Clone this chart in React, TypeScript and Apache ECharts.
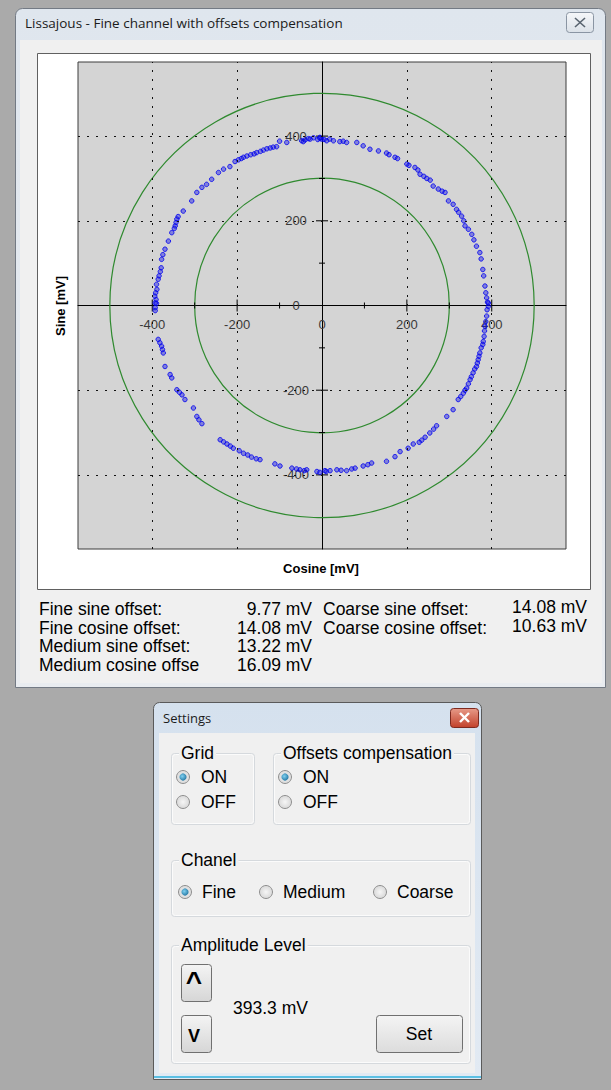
import React, { useEffect, useRef } from "react";
import * as echarts from "echarts";

const WINDOW_TITLE = "Lissajous - Fine channel with offsets compensation";
const X_NAME = "Cosine [mV]";
const Y_NAME = "Sine [mV]";
const AXIS_MIN = -575;
const AXIS_MAX = 575;
const TICK_LABELS = [-400, -200, 0, 200, 400];
const GRID_LINES = [-400, -200, 200, 400];
const MINOR_TICKS = [-300, -100, 100, 300];
const RING_RADII = [300, 500];

// Cosine [mV], Sine [mV] samples
const sampleCos = [
  -1, -32, -48, -83, -100, -107, -115, -122, -130, -138, -145, -154, -160, -168, -177, -185, -190, -197, -205, -217,
  -232, -244, -260, -272, -283, -295, -307, -327, -339, -342, -344, -346, -348, -354, -362, -370, -375, -378, -379,
  -381, -384, -386, -389, -390, -391, -392, -394, -390, -393, -393, -40, -20, -10, -5,
  -44, -28, -5, 5, 11, 18, 27, 42, 50, 58, 82, 97, 113, 133, 152, 158, 172, 178, 200, 205, 219, 226, 231, 240, 247,
  255, 262, 274, 283, 290, 298, 309, 317, 322, 329, 334, 337, 345, 353, 358, 364, 372, 375, 379, 381, 384, 386, 388,
  390, 392,
  392, 389, 388, 386, 384, 383, 382, 380, 379, 375, 372, 370, 368, 366, 364, 360, 356, 352, 349, 345, 341, 337, 333,
  327, 321, 309, 294, 270, 263, 254, 243, 235, 229, 215, 203, 184, 172, 152, 117, 108, 97, 78, 70, 58, 45, 35, 19, 10,
  -5,
  7, -12, -36, -42, -52, -60, -71, -99, -111, -146, -155, -166, -175, -185, -195, -209, -216, -224, -232, -240, -283,
  -290, -295, -303, -323, -330, -336, -342, -354, -358, -370, -374, -376, -378, -382, -386, -393,
];
const sampleSin = [
  393, 394, 389, 385, 388, 375, 374, 372, 370, 367, 364, 361, 358, 356, 353, 350, 347, 344, 340, 328,
  322, 314, 298, 286, 279, 267, 247, 223, 210, 204, 196, 188, 182, 172, 152, 133, 120, 109, 89,
  80, 70, 62, 38, 50, 14, 30, 22, 5, -5, -12, 391, 396, 392, 397,
  387, 393, 395, 392, 389, 393, 389, 387, 388, 385, 385, 377, 369, 365, 360, 356, 350, 347, 334, 331, 326, 320, 310, 305, 300,
  296, 282, 275, 270, 267, 247, 239, 227, 220, 211, 200, 188, 180, 168, 155, 140, 125, 110, 85, 70, 46, 30, 18,
  8, -2,
  6, -10, -25, -38, -49, -60, -73, -85, -92, -100, -112, -120, -128, -136, -144, -150, -159, -168, -175, -185, -195, -200, -207,
  -215, -222, -246, -262, -284, -292, -301, -311, -318, -323, -327, -337, -345, -357, -368, -372, -376, -379, -384, -386, -390, -389, -388, -390, -392,
  -394,
  -390, -392, -388, -390, -388, -386, -384, -379, -374, -364, -362, -358, -353, -349, -343, -337, -332, -327, -322, -317, -279,
  -270, -262, -242, -222, -211, -205, -199, -171, -163, -144, -112, -104, -96, -88, -80, 6,
];

const offsetNamesLeft = ["Fine sine offset:", "Fine cosine offset:", "Medium sine offset:", "Medium cosine offse"];
const offsetValuesLeft = ["9.77 mV", "14.08 mV", "13.22 mV", "16.09 mV"];
const offsetNamesRight = ["Coarse sine offset:", "Coarse cosine offset:"];
const offsetValuesRight = ["14.08 mV", "10.63 mV"];
const gridChoices = ["ON", "OFF"];
const offsetChoices = ["ON", "OFF"];
const channelChoices = ["Fine", "Medium", "Coarse"];
const amplitudeText = "393.3 mV";

const UI_FONT = '"Liberation Sans", Arial, sans-serif';
const TITLE_FONT = '"Open Sans", "Noto Sans", sans-serif';

const GRID_LEFT = 78;
const GRID_TOP = 62;
const GRID_W = 488;
const GRID_H = 487;

function txt(text: string, x: number, y: number, opts: any = {}) {
  return {
    type: "text",
    x,
    y,
    z: 50,
    rotation: opts.rotation || 0,
    style: {
      text,
      font: opts.font || `17.5px ${UI_FONT}`,
      fill: opts.fill || "#000",
      textAlign: opts.align || "left",
      textVerticalAlign: "middle",
      backgroundColor: opts.bg,
      padding: opts.bg ? [0, 2] : undefined,
    },
  };
}

function rect(x: number, y: number, w: number, h: number, style: any, r: any = 0, z = -10) {
  return { type: "rect", z, shape: { x, y, width: w, height: h, r }, style };
}

function vgrad(a: string, b: string) {
  return { type: "linear", x: 0, y: 0, x2: 0, y2: 1, colorStops: [{ offset: 0, color: a }, { offset: 1, color: b }] };
}

function radio(cx: number, cy: number, checked: boolean) {
  const els: any[] = [
    {
      type: "circle",
      z: 20,
      shape: { cx, cy, r: 6.5 },
      style: {
        fill: { type: "radial", x: 0.5, y: 0.5, r: 0.6, colorStops: [{ offset: 0, color: "#f6f6f6" }, { offset: 1, color: "#d2d2d2" }] },
        stroke: "#8f8f8f",
        lineWidth: 1,
      },
    },
  ];
  if (checked) {
    els.push({
      type: "circle",
      z: 21,
      shape: { cx, cy, r: 3.6 },
      style: {
        fill: { type: "radial", x: 0.4, y: 0.4, r: 0.7, colorStops: [{ offset: 0, color: "#7fd0f0" }, { offset: 1, color: "#1c6f9c" }] },
      },
    });
  }
  return els;
}

function groupBox(x: number, y: number, w: number, h: number, label: string) {
  return [
    rect(x + 0.5, y + 0.5, w, h, { fill: "none", stroke: "#d5d9dd", lineWidth: 1 }, 3, 5),
    rect(x + 1.5, y + 1.5, w - 2, h - 2, { fill: "none", stroke: "#fbfbfb", lineWidth: 1 }, 3, 5),
    txt(label, x + 8, y, { bg: "#f0f0f0" }),
  ];
}

function buildGraphics() {
  const g: any[] = [];
  // main window
  g.push(rect(15.5, 8.5, 590, 679, { fill: vgrad("#dfe6ee", "#e9ecf0"), stroke: "#737a84", lineWidth: 1 }, [7, 7, 0, 0], -20));
  g.push(rect(20, 40, 582, 643, { fill: "#f0f0f0" }, 0, -19));
  g.push(rect(566.5, 12.5, 27, 20, { fill: vgrad("#f5f7fa", "#dbe1e8"), stroke: "#8a95a3", lineWidth: 1 }, 3, -5));
  g.push({ type: "line", z: 30, shape: { x1: 575, y1: 18, x2: 585, y2: 27 }, style: { stroke: "#58636f", lineWidth: 1.6 } });
  g.push({ type: "line", z: 30, shape: { x1: 585, y1: 18, x2: 575, y2: 27 }, style: { stroke: "#58636f", lineWidth: 1.6 } });
  g.push(txt(WINDOW_TITLE, 25, 23, { font: `13.5px ${TITLE_FONT}`, fill: "#1b1b1b" }));
  g.push(rect(37.5, 53.5, 553, 536, { fill: "#ffffff", stroke: "#606060", lineWidth: 1 }, 0, -8));
  // axis names
  g.push(txt(X_NAME, 321, 568, { font: `bold 13px ${UI_FONT}`, align: "center" }));
  g.push(txt(Y_NAME, 60, 306, { font: `bold 13px ${UI_FONT}`, align: "center", rotation: Math.PI / 2 }));
  // offsets
  const rowsY = [609, 628, 646, 665];
  offsetNamesLeft.forEach((t, i) => g.push(txt(t, 39, rowsY[i])));
  offsetValuesLeft.forEach((t, i) => g.push(txt(t, 312, rowsY[i], { align: "right" })));
  offsetNamesRight.forEach((t, i) => g.push(txt(t, 323, rowsY[i])));
  offsetValuesRight.forEach((t, i) => g.push(txt(t, 587, rowsY[i] - 2, { align: "right" })));

  // settings window
  g.push(rect(153.5, 702.5, 328, 377, { fill: vgrad("#d5e1ee", "#e2eaf3"), stroke: "#5a5a5a", lineWidth: 1 }, [6, 6, 0, 0], -20));
  g.push(rect(159, 733, 316, 340, { fill: "#f0f0f0" }, 0, -19));
  g.push({ type: "line", z: -5, shape: { x1: 154, y1: 1077, x2: 481, y2: 1077 }, style: { stroke: "#5bc0e4", lineWidth: 2 } });
  g.push(txt("Settings", 163, 718, { font: `13px ${TITLE_FONT}`, fill: "#1b1b1b" }));
  g.push(rect(450.5, 708.5, 28, 19, { fill: vgrad("#e79a88", "#c2412b"), stroke: "#7e2a1f", lineWidth: 1 }, 3, -5));
  g.push({ type: "line", z: 30, shape: { x1: 460, y1: 713, x2: 469, y2: 722 }, style: { stroke: "#ffffff", lineWidth: 2.4 } });
  g.push({ type: "line", z: 30, shape: { x1: 469, y1: 713, x2: 460, y2: 722 }, style: { stroke: "#ffffff", lineWidth: 2.4 } });

  g.push(...groupBox(171, 753, 83, 71, "Grid"));
  g.push(...groupBox(273, 753, 197, 71, "Offsets compensation"));
  g.push(...groupBox(171, 860, 299, 56, "Chanel"));
  g.push(...groupBox(171, 945, 299, 118, "Amplitude Level"));

  gridChoices.forEach((t, i) => {
    g.push(...radio(183, 777 + i * 25, i === 0));
    g.push(txt(t, 201, 777 + i * 25));
  });
  offsetChoices.forEach((t, i) => {
    g.push(...radio(285, 777 + i * 25, i === 0));
    g.push(txt(t, 303, 777 + i * 25));
  });
  const chX = [185, 266, 380];
  channelChoices.forEach((t, i) => {
    g.push(...radio(chX[i], 892, i === 0));
    g.push(txt(t, chX[i] + 17, 892));
  });

  // amplitude buttons
  g.push(rect(181.5, 964.5, 30, 37, { fill: vgrad("#f4f4f4", "#d6d6d6"), stroke: "#707070", lineWidth: 1 }, 3, 10));
  g.push(rect(181.5, 1015.5, 30, 37, { fill: vgrad("#f4f4f4", "#d6d6d6"), stroke: "#707070", lineWidth: 1 }, 3, 10));
  g.push(txt("^", 194, 981, { font: `bold 28px ${UI_FONT}`, align: "center" }));
  g.push(txt("V", 194, 1036, { font: `bold 18px ${UI_FONT}`, align: "center" }));
  g.push(txt(amplitudeText, 233, 1008));
  g.push(rect(376.5, 1015.5, 86, 37, { fill: vgrad("#f4f4f4", "#dcdcdc"), stroke: "#707070", lineWidth: 1 }, 3, 10));
  g.push(txt("Set", 419, 1034, { align: "center" }));
  return g;
}

export default function App() {
  const ref = useRef<HTMLDivElement>(null);
  useEffect(() => {
    if (!ref.current) return;
    const chart = echarts.init(ref.current, null, { renderer: "svg" });
    const points = sampleCos.map((c, i) => [c, sampleSin[i]]);
    const tickData = [
      ...[...GRID_LINES, ...MINOR_TICKS].map((v) => [v, 0]),
      ...[...GRID_LINES, ...MINOR_TICKS].map((v) => [0, v]),
    ];
    const axisLabel = {
      customValues: TICK_LABELS,
      color: "#3a3a3a",
      fontSize: 13,
      fontFamily: UI_FONT,
    };
    const zeroFrac = (0 - AXIS_MIN) / (AXIS_MAX - AXIS_MIN);
    chart.setOption({
      animation: false,
      backgroundColor: "#aaaaaa",
      grid: {
        left: GRID_LEFT,
        top: GRID_TOP,
        width: GRID_W,
        height: GRID_H,
        show: true,
        backgroundColor: "#d4d4d4",
        borderColor: "#3c3c3c",
        borderWidth: 1,
      },
      xAxis: {
        type: "value",
        min: AXIS_MIN,
        max: AXIS_MAX,
        position: "bottom",
        offset: -GRID_H * zeroFrac,
        axisLine: { onZero: false, lineStyle: { color: "#000", width: 1 } },
        axisTick: { show: false },
        splitLine: { show: false },
        axisLabel: { ...axisLabel, margin: 12 },
      },
      yAxis: {
        type: "value",
        min: AXIS_MIN,
        max: AXIS_MAX,
        position: "left",
        offset: -GRID_W * zeroFrac,
        axisLine: { onZero: false, lineStyle: { color: "#000", width: 1 } },
        axisTick: { show: false },
        splitLine: { show: false },
        axisLabel: { ...axisLabel, margin: 26, align: "center" },
      },
      graphic: buildGraphics(),
      series: [
        {
          type: "custom",
          z: 1,
          silent: true,
          data: RING_RADII.map((r) => [r, 0]),
          renderItem: (params: any, api: any) => {
            const c = api.coord([0, 0]);
            const r = api.size([api.value(0), 0])[0];
            return {
              type: "circle",
              shape: { cx: c[0], cy: c[1], r },
              style: { fill: "none", stroke: "#2f8a2f", lineWidth: 1.2 },
            };
          },
        },
        {
          type: "custom",
          z: 2,
          silent: true,
          data: tickData,
          renderItem: (params: any, api: any) => {
            const xv = api.value(0);
            const yv = api.value(1);
            const p = api.coord([xv, yv]);
            const onX = yv === 0;
            const v = onX ? xv : yv;
            const half = v % 200 === 0 ? 6 : 3;
            return {
              type: "line",
              shape: onX
                ? { x1: p[0], y1: p[1] - half, x2: p[0], y2: p[1] + half }
                : { x1: p[0] - half, y1: p[1], x2: p[0] + half, y2: p[1] },
              style: { stroke: "#000", lineWidth: 1 },
            };
          },
        },
        {
          type: "scatter",
          z: 3,
          data: points,
          symbol: "circle",
          symbolSize: 4.5,
          itemStyle: { color: "rgba(20,20,230,0.55)", borderColor: "#0000f0", borderWidth: 1 },
          markLine: {
            silent: true,
            symbol: ["none", "none"],
            label: { show: false },
            lineStyle: { color: "#111", type: [2, 7], width: 1 },
            data: [
              ...GRID_LINES.map((v) => ({ xAxis: v })),
              ...GRID_LINES.map((v) => ({ yAxis: v })),
            ],
          },
        },
      ],
    });
    return () => chart.dispose();
  }, []);
  return <div ref={ref} style={{ position: "absolute", left: 0, top: 0, width: 611, height: 1090 }} />;
}
